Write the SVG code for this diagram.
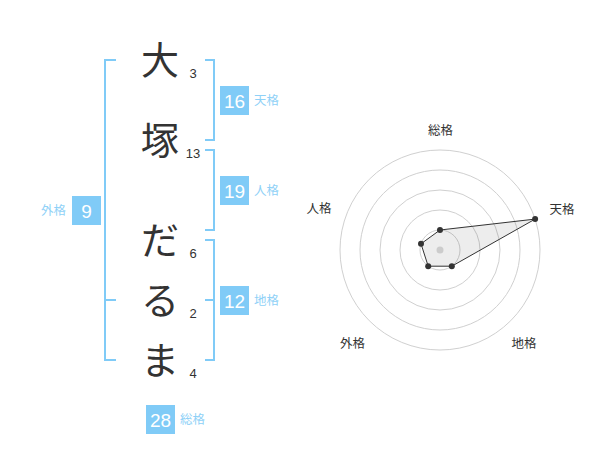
<svg xmlns="http://www.w3.org/2000/svg" width="600" height="470" viewBox="0 0 600 470">
<style>
.ch{font-family:"Noto Sans CJK JP","Noto Sans CJK SC",sans-serif;font-size:38px;fill:#333;text-anchor:middle}
.num{font-family:"Liberation Sans",Arial,sans-serif;font-size:13px;fill:#333;text-anchor:middle}
.br{fill:none;stroke:#80cbf7;stroke-width:2}
.box{fill:#80cbf7}
.bt{font-family:"Liberation Sans",Arial,sans-serif;font-size:19px;fill:#fff;text-anchor:middle}
.bl{font-family:"Noto Sans CJK JP","Noto Sans CJK SC",sans-serif;font-size:12.5px;fill:#8fd1f7}
.ring{fill:none;stroke:#d0d0d0;stroke-width:1}
.rl{font-family:"Noto Sans CJK JP","Noto Sans CJK SC",sans-serif;font-size:12.5px;fill:#333;text-anchor:middle}
.pt{fill:#333}
</style>
<rect width="600" height="470" fill="#fff"/>
<g id="chars">
<text class="ch" x="160" y="74">大</text>
<text class="ch" x="160" y="154">塚</text>
<text class="ch" x="160" y="254">だ</text>
<text class="ch" x="160" y="314">る</text>
<text class="ch" x="160" y="374">ま</text>
<text class="num" x="193" y="78">3</text>
<text class="num" x="193" y="158">13</text>
<text class="num" x="193" y="258">6</text>
<text class="num" x="193" y="318">2</text>
<text class="num" x="193" y="378">4</text>
</g>
<g id="connectors">
<path class="br" d="M116,60 H105 V360 H116 M105,300 H116"/>
<path class="br" d="M205,60 H214 V140 H205"/>
<path class="br" d="M205,150 H214 V230 H205"/>
<path class="br" d="M205,240 H214 V360 H205 M205,300 H214"/>
</g>
<g id="tenkaku">
<rect class="box" x="220" y="86" width="29" height="29"/>
<text class="bt" x="234.5" y="108">16</text>
<text class="bl" x="254" y="105">天格</text>
</g>
<g id="jinkaku">
<rect class="box" x="220" y="176" width="29" height="29"/>
<text class="bt" x="234.5" y="198">19</text>
<text class="bl" x="254" y="195">人格</text>
</g>
<g id="chikaku">
<rect class="box" x="220" y="286" width="29" height="29"/>
<text class="bt" x="234.5" y="308">12</text>
<text class="bl" x="254" y="305">地格</text>
</g>
<g id="gaikaku">
<rect class="box" x="72" y="196" width="29" height="29"/>
<text class="bt" x="86.5" y="218">9</text>
<text class="bl" x="66" y="215" text-anchor="end">外格</text>
</g>
<g id="soukaku">
<rect class="box" x="146" y="405" width="29" height="29"/>
<text class="bt" x="160.5" y="427">28</text>
<text class="bl" x="180" y="424">総格</text>
</g>
<g id="radar">
<circle class="ring" cx="440" cy="250" r="20"/>
<circle class="ring" cx="440" cy="250" r="40"/>
<circle class="ring" cx="440" cy="250" r="60"/>
<circle class="ring" cx="440" cy="250" r="80"/>
<circle class="ring" cx="440" cy="250" r="100"/>
<polygon points="440,230 535.1,219.1 451.8,266.2 428.2,266.2 421,243.8" fill="rgba(0,0,0,0.07)" stroke="#333" stroke-width="1"/>
<circle cx="440" cy="250" r="3.5" fill="#ccc"/>
<circle class="pt" cx="440" cy="230" r="3"/>
<circle class="pt" cx="535.1" cy="219.1" r="3"/>
<circle class="pt" cx="451.8" cy="266.2" r="3"/>
<circle class="pt" cx="428.2" cy="266.2" r="3"/>
<circle class="pt" cx="421" cy="243.8" r="3"/>
<text class="rl" x="440.5" y="135">総格</text>
<text class="rl" x="562" y="213.5">天格</text>
<text class="rl" x="319" y="213">人格</text>
<text class="rl" x="352.5" y="347.5">外格</text>
<text class="rl" x="524" y="347.5">地格</text>
</g>
</svg>
